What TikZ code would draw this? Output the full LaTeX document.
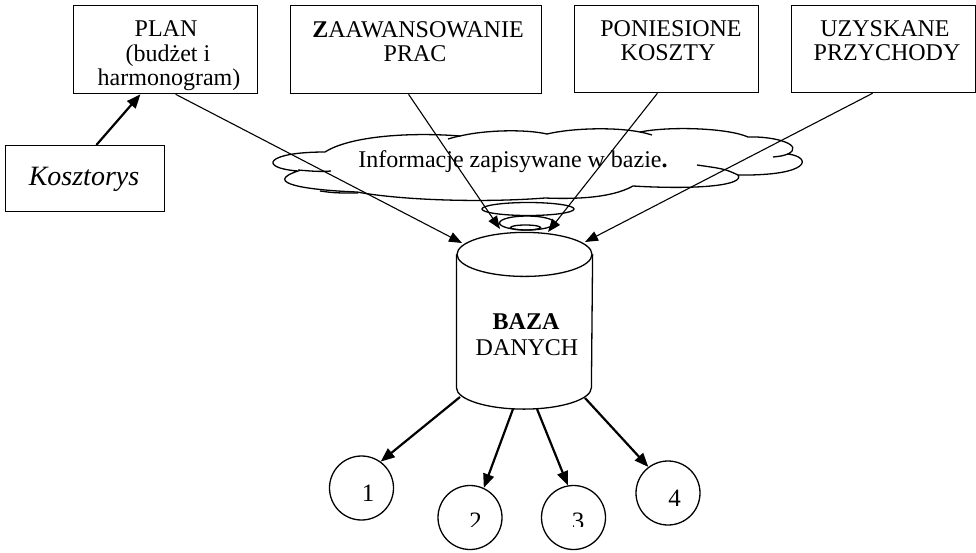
\documentclass[tikz,border=0pt]{standalone}
\usepackage{fontspec}
\setmainfont{Liberation Serif}
\usetikzlibrary{arrows.meta,calc}
\begin{document}
\begin{tikzpicture}[x=1pt,y=-1pt,line width=1.2pt,
  box/.style={draw,line width=1.3pt,inner sep=0pt,anchor=north west},
  txt/.style={font=\fontsize{24}{24}\selectfont,anchor=base,inner sep=0pt},
  thinarrow/.style={line width=1.1pt,-{Triangle[length=13pt,width=10pt]}},
  thickarrow/.style={line width=2.2pt,-{Triangle[length=14pt,width=11pt]}},
  cl/.style={line width=1.3pt},
  ring/.style={line width=1.3pt}]
\useasboundingbox (0,0) rectangle (976,552);

% boxes
\node[box,minimum width=184pt,minimum height=88pt] (plan) at (73,5) {};
\node[box,minimum width=251pt,minimum height=88pt] (zaaw) at (290,5) {};
\node[box,minimum width=184pt,minimum height=87pt] (pon) at (574,5) {};
\node[box,minimum width=184pt,minimum height=87pt] (uzy) at (791,5) {};
\node[box,minimum width=159pt,minimum height=66pt] (kosz) at (5,145) {};

% box texts
\node[txt] (plant1) at (166,36) {PLAN};
\node[txt] (plant2) at (168,61) {(budżet i};
\node[txt] (plant3) at (169,85) {harmonogram)};
\node[txt] (zaawt1) at (418,37) {\textbf{Z}AAWANSOWANIE};
\node[txt] (zaawt2) at (415,61) {PRAC};
\node[txt] (pont1) at (671,36) {PONIESIONE};
\node[txt] (pont2) at (668,60) {KOSZTY};
\node[txt] (uzyt1) at (885,36) {UZYSKANE};
\node[txt] (uzyt2) at (887,60) {PRZYCHODY};
\node[txt,font=\fontsize{28}{28}\selectfont\itshape] (koszt) at (84,185) {Kosztorys};

% cloud
\draw[cl] (325,152)
  .. controls (350,136) and (410,132) .. (460,136)
  .. controls (485,130) and (525,129) .. (547,134)
  .. controls (572,128) and (615,127) .. (640,132)
  .. controls (670,126) and (728,128) .. (748,137)
  .. controls (775,136) and (805,145) .. (788,154)
  .. controls (812,157) and (812,176) .. (738,175)
  .. controls (745,185) and (700,190) .. (633,186)
  .. controls (610,199) and (570,199) .. (545,198)
  .. controls (480,203) and (400,200) .. (357,192)
  .. controls (305,190) and (262,183) .. (298,171)
  .. controls (258,168) and (265,152) .. (325,152)
  -- cycle;
\draw[cl] (298,170) .. controls (310,171) and (320,172) .. (331,171);
\draw[cl] (320,191) .. controls (335,193) .. (358,193);
\draw[cl] (788,154) .. controls (782,156) .. (773,157);
\draw[cl] (738,175) .. controls (725,169) .. (697,165);
\draw[cl] (460,136) .. controls (455,137) .. (448,139);
\draw[cl] (640,132) .. controls (645,133) .. (652,135);
\node[txt] (cloudt) at (513,167) {Informacje zapisywane w bazie\textbf{.}};

% cloud tail rings
\draw[ring] (528,209) ellipse [x radius=46pt, y radius=6.5pt];
\draw[ring] (527,223) ellipse [x radius=27.5pt, y radius=7pt];
\draw[ring] (525.5,227.5) ellipse [x radius=15pt, y radius=2.5pt];

% database cylinder
\node[minimum width=135pt,minimum height=132pt,inner sep=0pt] (baza) at (524.5,321) {};
\draw[line width=1.3pt] (baza.north west) -- (baza.south west)
  arc[start angle=180,end angle=360,x radius=67.5pt,y radius=21.5pt]
  -- (baza.north east);
\draw[line width=1.3pt] (baza.north) ellipse [x radius=67.5pt, y radius=22pt];
\node[txt] (bazat1) at (526,329) {\bfseries BAZA};
\node[txt] (bazat2) at (527,355) {DANYCH};

% circles
\node[circle,draw,line width=1.3pt,minimum size=64pt,inner sep=0pt] (c1) at (361.5,488) {};
\node[circle,draw,line width=1.3pt,minimum size=64pt,inner sep=0pt] (c2) at (470,517.5) {};
\node[circle,draw,line width=1.3pt,minimum size=64pt,inner sep=0pt] (c3) at (573.5,517.5) {};
\node[circle,draw,line width=1.3pt,minimum size=64pt,inner sep=0pt] (c4) at (668,493) {};
\node[txt,font=\fontsize{25}{25}\selectfont] (c1t) at (368,501) {1};
\node[txt,font=\fontsize{25}{25}\selectfont] (c4t) at (674.5,506) {4};
\begin{scope}
  \clip (430,480) rectangle (620,526);
  \node[txt,font=\fontsize{25}{25}\selectfont] (c2t) at (475.5,529) {2};
  \node[txt,font=\fontsize{25}{25}\selectfont] (c3t) at (578,529) {3};
\end{scope}

% connector end points
\coordinate (t1) at (462,243);
\coordinate (t2) at (500,229);
\coordinate (t3) at (548,232);
\coordinate (t4) at (585,242);
\coordinate (b1) at (460,397);
\coordinate (b2) at (513,409);
\coordinate (b3) at (537,409);
\coordinate (b4) at (585,398);

% top connectors
\draw[thinarrow] ($(plan.south west)!0.554!(plan.south east)$) -- (t1);
\draw[thinarrow] ($(zaaw.south west)!0.47!(zaaw.south east)$) -- (t2);
\draw[thinarrow] ($(pon.south west)!0.45!(pon.south east)$) -- (t3);
\draw[thinarrow] ($(uzy.south west)!0.44!(uzy.south east)$) -- (t4);

% kosztorys -> plan
\draw[thickarrow] ($(kosz.north west)!0.57!(kosz.north east)$) -- ($(plan.south west)!0.364!(plan.south east)$);

% bottom connectors
\draw[thickarrow] (b1) -- (c1.54);
\draw[thickarrow] (b2) -- (c2.65);
\draw[thickarrow] (b3) -- (c3.100);
\draw[thickarrow] (b4) -- (c4.127);
\end{tikzpicture}
\end{document}
